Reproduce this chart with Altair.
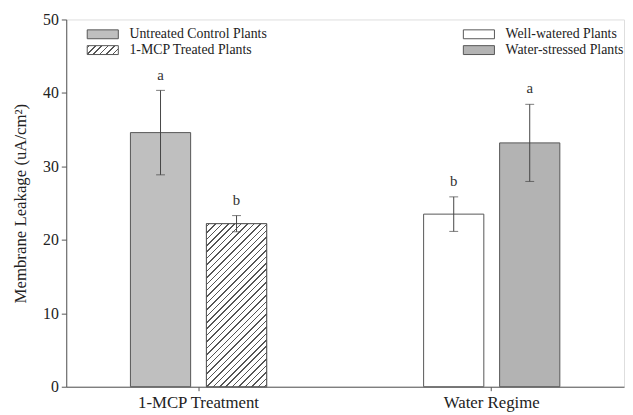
import json
import altair as alt
import pandas as pd

# ---- data ----
groups = ["1-MCP Treatment", "1-MCP Treatment", "Water Regime", "Water Regime"]
series = ["Untreated Control Plants", "1-MCP Treated Plants",
          "Well-watered Plants", "Water-stressed Plants"]
slots = ["A", "B", "A", "B"]
means = [34.6, 22.2, 23.5, 33.2]
errors = [5.75, 1.1, 2.35, 5.25]
letters = ["a", "b", "b", "a"]

df = pd.DataFrame({"group": groups, "series": series, "slot": slots,
                   "mean": means, "err": errors, "letter": letters})
df["lo"] = df["mean"] - df["err"]
df["hi"] = df["mean"] + df["err"]

FONT = "Liberation Serif"
W, H = 565, 372
X_PI, X_PO = 0.5354, 0.2189
O_PI = 0.2078
DARK = "#555555"
GRAY1 = "#bfbfbf"
GRAY2 = "#b3b3b3"


def hatch(w, h, spacing=6.5, thick=1.5, phase=3.0, color=DARK):
    L = w + h
    d = w * w + h * h
    stops = [{"offset": 0, "color": "white"}]
    c = phase
    while c - thick / 2 < L:
        a = max(0.0, (c - thick / 2) / L)
        b = min(1.0, (c + thick / 2) / L)
        stops += [{"offset": round(a, 5), "color": "white"},
                  {"offset": round(a, 5), "color": color},
                  {"offset": round(b, 5), "color": color},
                  {"offset": round(b, 5), "color": "white"}]
        c += spacing
    stops.append({"offset": 1, "color": "white"})
    return {"gradient": "linear", "x1": 0, "y1": 0,
            "x2": round(L * w / d, 5), "y2": round(L * h / d, 5), "stops": stops}


# pixel size of a bar from the band scales
step = W / (2 - X_PI + 2 * X_PO)
band = step * (1 - X_PI)
bar_w = band / (2 - O_PI) * (1 - O_PI)
hatch_idx = series.index("1-MCP Treated Plants")
bar_h = means[hatch_idx] / 50 * H
bar_grad = hatch(bar_w, bar_h)
sym_grad = hatch(31.5, 9, spacing=6.5, phase=2.0)

x_enc = alt.X("group:N", scale=alt.Scale(domain=["1-MCP Treatment", "Water Regime"],
                                          paddingInner=X_PI, paddingOuter=X_PO),
              axis=alt.Axis(title=None, labelAngle=0, labelFont=FONT, labelFontSize=17,
                            labelColor="#222", tickSize=4, labelPadding=4,
                            domainColor=DARK, tickColor=DARK))
xo_enc = alt.XOffset("slot:N", scale=alt.Scale(domain=["A", "B"], paddingInner=O_PI,
                                               paddingOuter=0))
y_enc = alt.Y("mean:Q", scale=alt.Scale(domain=[0, 50], nice=False),
              axis=alt.Axis(title="Membrane Leakage (uA/cm²)", values=[0, 10, 20, 30, 40, 50],
                            grid=False, tickSize=5, labelFont=FONT, labelFontSize=16,
                            labelColor="#222", labelPadding=3, titleFont=FONT,
                            titleFontSize=17, titleFontWeight="normal", titleColor="#222",
                            titlePadding=13, domainColor=DARK, tickColor=DARK))

SYM = "M-3.5,-1H3.5V1H-3.5Z"

base = alt.Chart(df)

bars = base.mark_bar(stroke=DARK, strokeWidth=1).encode(
    x=x_enc, xOffset=xo_enc, y=y_enc,
    fill=alt.Fill("series:N", scale=alt.Scale(domain=series,
                                              range=[GRAY1, "white", "white", GRAY2]),
                  legend=None))

hatched = base.transform_filter(alt.datum.series == "1-MCP Treated Plants").mark_bar(
    fill=alt.LinearGradient(**bar_grad), stroke=DARK, strokeWidth=1).encode(
    x=x_enc, xOffset=xo_enc, y=y_enc)

err_rule = base.mark_rule(color="#444", strokeWidth=1).encode(
    x=x_enc, xOffset=xo_enc, y=alt.Y("lo:Q"), y2="hi:Q")
cap_lo = base.mark_tick(color="#444", thickness=1, size=9).encode(
    x=x_enc, xOffset=xo_enc, y=alt.Y("lo:Q"))
cap_hi = base.mark_tick(color="#444", thickness=1, size=9).encode(
    x=x_enc, xOffset=xo_enc, y=alt.Y("hi:Q"))
labels = base.mark_text(font=FONT, fontSize=15, color="#333", baseline="bottom", dy=-8).encode(
    x=x_enc, xOffset=xo_enc, y=alt.Y("hi:Q"), text="letter:N")


def legend_layer(group, domain, fill_expr, lx):
    expr = alt.ExprRef(expr=fill_expr)
    return base.transform_filter(alt.datum.group == group).mark_point(
        filled=False, size=0, fill=expr, stroke=DARK, strokeWidth=1, strokeOpacity=1,
        fillOpacity=1).encode(
        x=x_enc, xOffset=xo_enc, y=y_enc,
        shape=alt.Shape("series:N", scale=alt.Scale(domain=domain, range=[SYM, SYM]),
                        legend=alt.Legend(title=None, orient="none", legendX=lx, legendY=8,
                                          symbolSize=81, symbolFillColor=expr,
                                          symbolStrokeWidth=1, symbolOpacity=1,
                                          labelFont=FONT, labelFontSize=14, labelColor="#222",
                                          labelOffset=20, rowPadding=2, padding=0)))


leg1 = legend_layer("1-MCP Treatment", ["Untreated Control Plants", "1-MCP Treated Plants"],
                    "datum.value === '1-MCP Treated Plants' ? " + json.dumps(sym_grad)
                    + " : '" + GRAY1 + "'", 30)
leg2 = legend_layer("Water Regime", ["Well-watered Plants", "Water-stressed Plants"],
                    "datum.value === 'Well-watered Plants' ? 'white' : '" + GRAY2 + "'", 411)

chart = alt.layer(bars, hatched, err_rule, cap_lo, cap_hi, labels, leg1, leg2).resolve_scale(
    shape="independent"
).properties(
    width=W, height=H,
    autosize=alt.AutoSizeParams(type="none"),
    padding={"left": 59, "top": 9, "right": 1, "bottom": 26},
).configure_view(stroke="#666666", strokeWidth=1).configure(background="white")

chart.save("out.html", embed_options={"renderer": "svg", "actions": False})
